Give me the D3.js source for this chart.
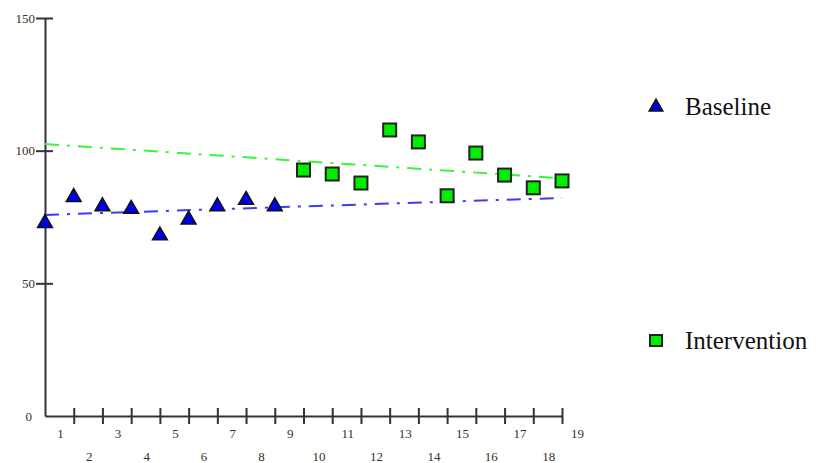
<!DOCTYPE html>
<html>
<head>
<meta charset="utf-8">
<script src="https://cdn.jsdelivr.net/npm/d3@7"></script>
<style>
  body { margin: 0; background: #fff; }
  .axis path, .axis line { stroke: #333; stroke-width: 2; }
  .axis text { font-family: "Liberation Serif", serif; font-size: 13px; fill: #3a3020; }
  .legend text { font-family: "Liberation Serif", serif; font-size: 25px; fill: #111; }
</style>
</head>
<body>
<svg id="chart" width="816" height="463"></svg>
<script>
// session numbers and scores
let sessions = d3.range(1, 20);
let baselineX = [1, 2, 3, 4, 5, 6, 7, 8, 9];
let baselineY = [72.7, 82.5, 79, 78, 68, 74, 79, 81.4, 79];
let interventionX = [10, 11, 12, 13, 14, 15, 16, 17, 18, 19];
let interventionY = [92.7, 91.2, 87.8, 107.8, 103.3, 83, 99.1, 90.8, 86, 88.6];
// trend line end points (session 1 and 19)
let baselineTrend = [75.8, 82.2];
let interventionTrend = [102.5, 89.6];
let yTicks = [0, 50, 100, 150];

let svg = d3.select("#chart");

let x = d3.scaleLinear().domain([1, 19]).range([45, 562]);
let y = d3.scaleLinear().domain([0, 150]).range([416, 18]);

// y axis
let yAxis = svg.append("g")
    .attr("class", "axis")
    .attr("transform", "translate(" + x(1) + ",0)")
    .call(d3.axisLeft(y).tickValues(yTicks).tickSizeInner(9).tickSizeOuter(0).tickPadding(1));
yAxis.selectAll(".tick line").attr("x1", 8);
yAxis.selectAll(".tick").filter(d => d === 0).select("line").remove();
yAxis.selectAll(".tick").filter(d => d === 0).select("text").attr("x", -13);

// x axis
let xAxis = svg.append("g")
    .attr("class", "axis")
    .attr("transform", "translate(0," + y(0) + ")")
    .call(d3.axisBottom(x).tickValues(sessions).tickSizeInner(8).tickSizeOuter(0).tickFormat(d3.format("d")));
xAxis.selectAll(".tick line").attr("y1", -8);
xAxis.selectAll(".tick").filter(d => d === 1).select("line").remove();
xAxis.selectAll(".tick text")
    .attr("x", 15)
    .attr("y", d => d % 2 === 1 ? 13 : 36)
    .attr("dy", "0.71em");

// trend lines
let trendLine = d3.line().x(d => x(d[0])).y(d => y(d[1]));
svg.append("path")
    .datum([[1, interventionTrend[0]], [19, interventionTrend[1]]])
    .attr("d", trendLine)
    .attr("fill", "none")
    .attr("stroke", "#3cf43c")
    .attr("stroke-width", 2)
    .attr("stroke-dasharray", "14,8,3,8");
svg.append("path")
    .datum([[1, baselineTrend[0]], [19, baselineTrend[1]]])
    .attr("d", trendLine)
    .attr("fill", "none")
    .attr("stroke", "#3c3cf4")
    .attr("stroke-width", 2)
    .attr("stroke-dasharray", "14,8,3,8");

let triangle = d3.symbol().type(d3.symbolTriangle).size(95);

// baseline points
svg.append("g").selectAll("path")
    .data(baselineX.map((d, i) => [d, baselineY[i]]))
    .join("path")
    .attr("d", triangle)
    .attr("transform", d => "translate(" + x(d[0]) + "," + y(d[1]) + ")")
    .attr("fill", "#0000e8")
    .attr("stroke", "#111")
    .attr("stroke-width", 1.5);

// intervention points
svg.append("g").selectAll("rect")
    .data(interventionX.map((d, i) => [d, interventionY[i]]))
    .join("rect")
    .attr("x", d => x(d[0]) - 6.5)
    .attr("y", d => y(d[1]) - 6.5)
    .attr("width", 13)
    .attr("height", 13)
    .attr("fill", "#00ee00")
    .attr("stroke", "#222")
    .attr("stroke-width", 2);

// legend
let legend = svg.append("g").attr("class", "legend");
legend.append("path")
    .attr("d", d3.symbol().type(d3.symbolTriangle).size(80))
    .attr("transform", "translate(656,107)")
    .attr("fill", "#0000e8")
    .attr("stroke", "#111")
    .attr("stroke-width", 1.5);
legend.append("text").attr("x", 685).attr("y", 115).text("Baseline");
legend.append("rect")
    .attr("x", 650).attr("y", 335).attr("width", 12).attr("height", 11)
    .attr("fill", "#00ee00").attr("stroke", "#222").attr("stroke-width", 2);
legend.append("text").attr("x", 685).attr("y", 349).text("Intervention");
</script>
</body>
</html>
